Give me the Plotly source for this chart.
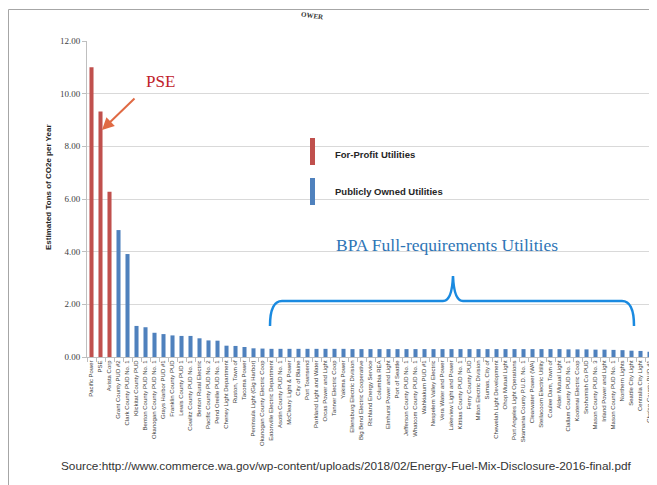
import plotly.graph_objects as go

categories = [
    "Pacific Power", "PSE", "Avista Corp", "Grant County PUD #2", "Clark County PUD No. 1",
    "Klickitat County PUD", "Benton County PUD No. 1", "Okanogan County PUD No. 1",
    "Grays Harbor PUD #1", "Franklin County PUD", "Lewis County PUD 1", "Cowlitz County PUD No. 1",
    "Benton Rural Electric", "Pacific County PUD No. 2", "Pend Oreille PUD No. 1",
    "Cheney Light Department", "Ruston, Town of", "Tacoma Power", "Peninsula Light (Gig Harbor)",
    "Okanogan County Electric Coop", "Eatonville Electric Department", "Asotin County PUD No. 1",
    "McCleary Light & Power", "City of Blaine", "Port Townsend", "Parkland Light and Water",
    "Orcas Power and Light", "Tanner Electric Coop", "Yakima Power", "Ellensburg Electric Division",
    "Big Bend Electric Cooperative", "Richland Energy Service", "Columbia REA",
    "Elmhurst Power and Light", "Port of Seattle", "Jefferson County PUD No. 1",
    "Whatcom County PUD No. 1", "Wahkiakum PUD #1", "Nespelem Valley Electric",
    "Vera Water and Power", "Lakeview Light and Power", "Kittitas County PUD No. 1",
    "Ferry County PUD", "Milton Electric Division", "Sumas, City of",
    "Chewelah Light Development", "Ohop Mutual Light", "Port Angeles Light Operations",
    "Skamania County P.U.D. No. 1", "Clearwater Power (WA)", "Steilacoom Electric Utility",
    "Coulee Dam, Town of", "Alder Mutual Light", "Clallam County PUD No. 1",
    "Kootenai Electric Coop", "Snohomish Co PUD", "Mason County PUD No. 3",
    "Inland Power and Light", "Mason County PUD No. 1", "Northern Lights",
    "Seattle City Light", "Centralia City Light", "Chelan County PUD #1",
]

values = [
    11.00, 9.32, 6.28, 4.82, 3.91,
    1.18, 1.13, 0.92, 0.87, 0.82, 0.80, 0.80,
    0.71, 0.63, 0.62, 0.43, 0.42, 0.38, 0.33,
    0.32, 0.31, 0.31, 0.31, 0.31, 0.31, 0.31,
    0.31, 0.31, 0.31, 0.30, 0.30, 0.30, 0.30,
    0.30, 0.30, 0.30, 0.30, 0.30, 0.30, 0.30,
    0.30, 0.30, 0.30, 0.30, 0.30, 0.30, 0.30,
    0.30, 0.30, 0.30, 0.30, 0.30, 0.30, 0.29,
    0.29, 0.29, 0.28, 0.28, 0.27, 0.26, 0.24,
    0.23, 0.20,
]

ownership = ["For-Profit"] * 3 + ["Public"] * (len(categories) - 3)

y_ticks = [0, 2, 4, 6, 8, 10, 12]
y_tick_text = ["0.00", "2.00", "4.00", "6.00", "8.00", "10.00", "12.00"]

RED = "#c0504d"
BLUE = "#4f81bd"
colors = [RED if o == "For-Profit" else BLUE for o in ownership]

OFF = 8  # page body margin
W, H = 649, 477
L, R, T, B = 79, 3, 33, 128
pw, ph = W - L - R, H - T - B


def px(x):
    return (x - OFF - L) / pw


def py(y):
    return (H - B - (y - OFF)) / ph


fig = go.Figure()
fig.add_trace(go.Bar(
    x=categories, y=values, marker=dict(color=colors, line=dict(width=0)),
    showlegend=False, hoverinfo="x+y",
))

shapes = []
# outer frame
shapes.append(dict(type="rect", xref="paper", yref="paper",
                   x0=px(8.5), x1=px(720), y0=py(9.5), y1=py(520),
                   line=dict(color="#a6a6a6", width=1), fillcolor="rgba(0,0,0,0)", layer="below"))
# legend swatches
shapes.append(dict(type="rect", xref="paper", yref="paper",
                   x0=px(310), x1=px(315), y0=py(138), y1=py(165),
                   line=dict(width=0), fillcolor=RED))
shapes.append(dict(type="rect", xref="paper", yref="paper",
                   x0=px(310), x1=px(315), y0=py(178), y1=py(205),
                   line=dict(width=0), fillcolor=BLUE))
# curly brace
pts = [("M", 270, 326), ("Q", 270, 301, 282, 301), ("L", 443, 301),
       ("Q", 452, 301, 453, 276), ("Q", 454, 301, 463, 301), ("L", 622, 301),
       ("Q", 634, 301, 634, 326)]
path = ""
for p in pts:
    cmd = p[0]
    coords = p[1:]
    s = []
    for i in range(0, len(coords), 2):
        s.append(f"{px(coords[i]):.5f},{py(coords[i+1]):.5f}")
    path += cmd + " " + " ".join(s) + " "
shapes.append(dict(type="path", xref="paper", yref="paper", path=path.strip(),
                   line=dict(color="#1a8ae0", width=2.5)))


def note(x, y, text, font, xanchor="center", **kw):
    d = dict(x=px(x), y=py(y), xref="paper", yref="paper", text=text, showarrow=False,
             xanchor=xanchor, yanchor="middle", font=font)
    d.update(kw)
    return d


annotations = [
    note(160, 81, "PSE", dict(family="Liberation Serif", size=17, color="#c0202a")),
    dict(x=px(102), y=py(130), xref="paper", yref="paper", text="", showarrow=True,
         ax=136 - 102, ay=97 - 130, arrowhead=2, arrowsize=1.2, arrowwidth=2,
         arrowcolor="#e06a44"),
    note(333, 154, "<b>For-Profit Utilities</b>",
         dict(family="Liberation Sans", size=9.5, color="#262626"), xanchor="left"),
    note(333, 191, "<b>Publicly Owned Utilities</b>",
         dict(family="Liberation Sans", size=9.5, color="#262626"), xanchor="left"),
    note(447, 245, "BPA Full-requirements Utilities",
         dict(family="Liberation Serif", size=17.5, color="#2e75b6")),
    note(346, 466,
         "Source:http://www.commerce.wa.gov/wp-content/uploads/2018/02/Energy-Fuel-Mix-Disclosure-2016-final.pdf",
         dict(family="Liberation Sans", size=11.8, color="#333333")),
    note(48, 187, "<b>Estimated Tons of CO2e per Year</b>",
         dict(family="Liberation Sans", size=8, color="#262626"), textangle=-90),
    dict(x=px(312), y=1 + T / ph, xref="paper", yref="paper", xanchor="center", yanchor="top",
         text="<b>OWER</b>", showarrow=False, textangle=8,
         font=dict(family="Liberation Serif", size=7, color="#333333")),
]

fig.update_layout(
    width=W, height=H,
    margin=dict(l=L, r=R, t=T, b=B, autoexpand=False),
    paper_bgcolor="white", plot_bgcolor="white",
    bargap=0.55,
    shapes=shapes, annotations=annotations,
    xaxis=dict(
        type="category", tickangle=-90, range=[-0.5, len(categories) - 0.5],
        tickfont=dict(family="Liberation Sans", size=6, color="#404040"),
        showline=True, linecolor="#bfbfbf", linewidth=1,
        ticks="outside", tickson="boundaries", ticklen=4, tickcolor="#bfbfbf",
        showgrid=False, automargin=False,
    ),
    yaxis=dict(
        range=[0, 12], tickvals=y_ticks, ticktext=y_tick_text,
        tickfont=dict(family="Liberation Serif", size=9, color="#404040"),
        showline=True, linecolor="#bfbfbf", linewidth=1,
        ticks="outside", ticklen=4, tickcolor="#bfbfbf",
        showgrid=True, gridcolor="#d9d9d9", gridwidth=1, zeroline=False,
        automargin=False,
    ),
)

fig.write_html("out.html")
